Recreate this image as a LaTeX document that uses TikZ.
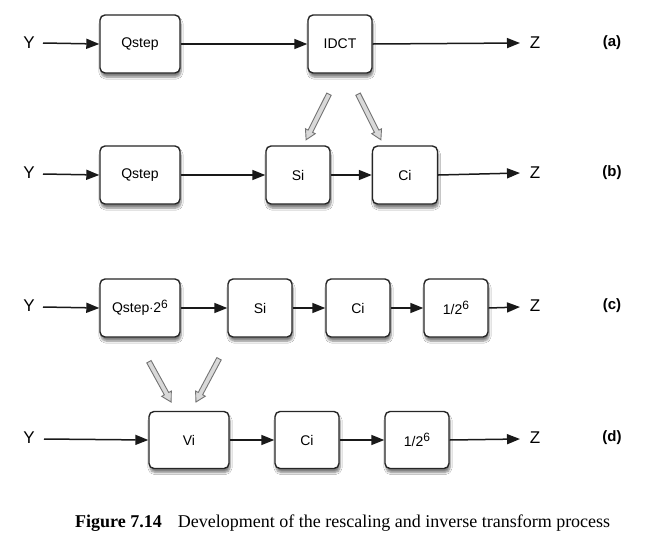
\documentclass[tikz,border=0pt]{standalone}
\usepackage{fontspec}
\setmainfont{Liberation Sans}
\newfontfamily\capfont{Liberation Serif}
\usetikzlibrary{arrows.meta,shadows.blur,shapes.arrows}
\newcommand{\supsix}{\raisebox{4.5pt}{\fontsize{12}{12}\selectfont 6}}
\begin{document}
\begin{tikzpicture}[x=1pt,y=-1pt,
  box/.style={draw=black!85,line width=1.4pt,rounded corners=5pt,fill=white,
    inner sep=0pt,font=\fontsize{14}{16}\selectfont,
    blur shadow={shadow xshift=1pt,shadow yshift=-4pt,shadow blur steps=6,shadow opacity=50}},
  lbl/.style={font=\fontsize{17}{19}\selectfont,inner sep=0pt},
  tag/.style={font=\bfseries\fontsize{15}{17}\selectfont,inner sep=0pt},
  flow/.style={line width=1.5pt,black!90,-{Triangle[length=13pt,width=10pt]}},
  hollow/.style={single arrow,draw=black!55,fill=black!15,line width=0.9pt,
    inner sep=0pt,minimum width=11pt,single arrow head extend=3pt,
    single arrow tip angle=60,single arrow head indent=0pt,text height=4pt}]
\useasboundingbox (0,0) rectangle (657,550);
\fill[white] (0,0) rectangle (657,550);
% row a
\node[lbl] (ya) at (29,43) {Y};
\node[box,minimum width=80pt,minimum height=58pt] (qa) at (140,44) {Qstep};
\node[box,minimum width=64pt,minimum height=58pt] (ia) at (340,44) {IDCT};
\node[lbl] (za) at (535,43) {Z};
\node[tag] (ta) at (612,43) {(a)};
\coordinate (ya1) at (43,43);
\coordinate (za1) at (520,43);
\draw[flow] (ya1) -- (qa.west);
\draw[flow] (qa.east) -- (ia.west);
\draw[flow] (ia.east) -- (za1);
% row b
\node[lbl] (yb) at (29,173) {Y};
\node[box,minimum width=80pt,minimum height=58pt] (qb) at (140,175) {Qstep};
\node[box,minimum width=64pt,minimum height=58pt] (sb) at (298,175) {Si};
\node[box,minimum width=65pt,minimum height=58pt] (cb) at (405,175) {Ci};
\node[lbl] (zb) at (535,173) {Z};
\node[tag] (tb) at (612,173) {(b)};
\coordinate (yb1) at (43,174);
\coordinate (zb1) at (520,173);
\draw[flow] (yb1) -- (qb.west);
\draw[flow] (qb.east) -- (sb.west);
\draw[flow] (sb.east) -- (cb.west);
\draw[flow] (cb.east) -- (zb1);
% hollow arrows a->b
\node[hollow,rotate=243.4,minimum height=51pt] (h1) at (318.5,115) {};
\node[hollow,rotate=-63.4,minimum height=51pt] (h2) at (368.5,115) {};
% row c
\node[lbl] (yc) at (29,306) {Y};
\node[box,minimum width=80pt,minimum height=58pt] (qc) at (140,308) {Qstep$\cdot$2\supsix};
\node[box,minimum width=64pt,minimum height=58pt] (sc) at (260,308) {Si};
\node[box,minimum width=64pt,minimum height=58pt] (cc) at (358,308) {Ci};
\node[box,minimum width=64pt,minimum height=58pt] (dc) at (456,308) {1/2\supsix};
\node[lbl] (zc) at (535,306) {Z};
\node[tag] (tc) at (612,306) {(c)};
\coordinate (yc1) at (43,307);
\coordinate (zc1) at (520,307);
\draw[flow] (yc1) -- (qc.west);
\draw[flow] (qc.east) -- (sc.west);
\draw[flow] (sc.east) -- (cc.west);
\draw[flow] (cc.east) -- (dc.west);
\draw[flow] (dc.east) -- (zc1);
% hollow arrows c->d
\node[hollow,rotate=-61.2,minimum height=46pt] (h3) at (159,380) {};
\node[hollow,rotate=-118.1,minimum height=49pt] (h4) at (208.5,378.5) {};
% row d
\node[lbl] (yd) at (29,438) {Y};
\node[box,minimum width=80pt,minimum height=57pt] (vd) at (189,440) {Vi};
\node[box,minimum width=64pt,minimum height=57pt] (cd) at (307,440) {Ci};
\node[box,minimum width=64pt,minimum height=57pt] (dd) at (417,440) {1/2\supsix};
\node[lbl] (zd) at (535,438) {Z};
\node[tag] (td) at (612,438) {(d)};
\coordinate (yd1) at (44,439);
\coordinate (zd1) at (520,439);
\draw[flow] (yd1) -- (vd.west);
\draw[flow] (vd.east) -- (cd.west);
\draw[flow] (cd.east) -- (dd.west);
\draw[flow] (dd.east) -- (zd1);
% caption
\node[anchor=west,inner sep=0pt,font=\capfont\fontsize{18}{20}\selectfont] (cap) at (75,523)
  {\textbf{Figure 7.14}\hspace{16pt}Development of the rescaling and inverse transform process};
\end{tikzpicture}
\end{document}
